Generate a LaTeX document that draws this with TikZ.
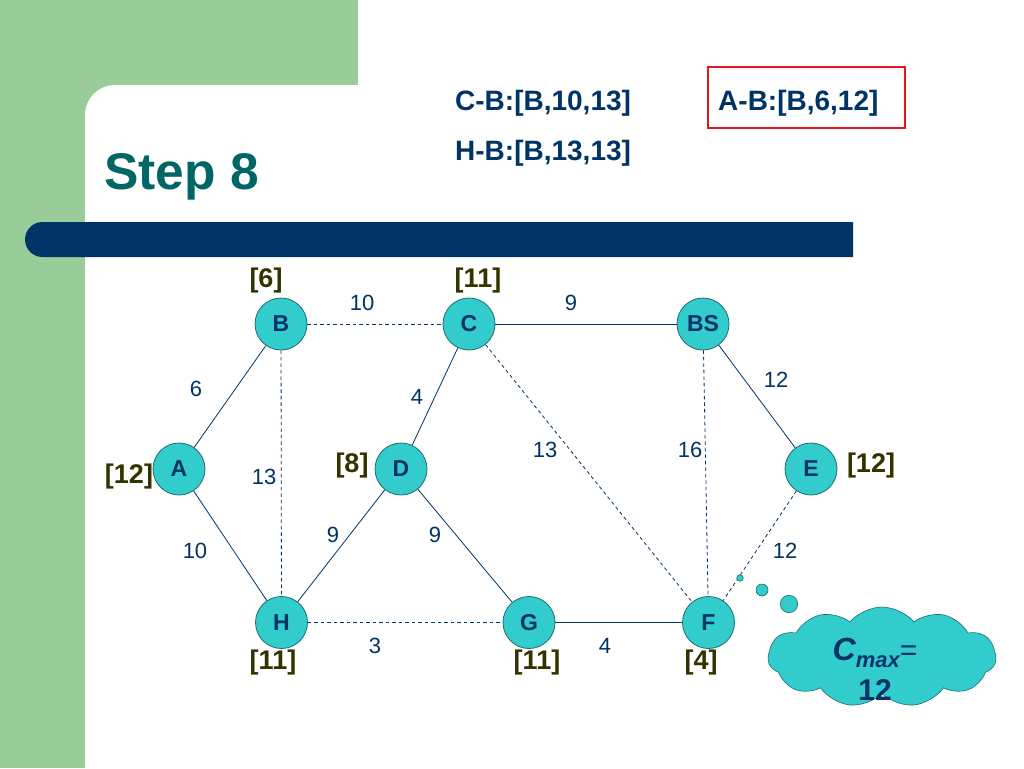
\documentclass[tikz,border=0pt]{standalone}
\usepackage{fontspec}
\setmainfont{Liberation Sans}
\usetikzlibrary{shapes.symbols}
\definecolor{bggreen}{HTML}{99CC99}
\definecolor{navy}{HTML}{003366}
\definecolor{teal8}{HTML}{006666}
\definecolor{turq}{HTML}{33CCCC}
\definecolor{rimc}{HTML}{1F6B70}
\definecolor{olive}{HTML}{333300}
\definecolor{redbox}{HTML}{E8141E}
\begin{document}
\begin{tikzpicture}[x=1pt,y=-1pt,
  vert/.style={circle,draw=rimc,fill=turq,line width=0.8pt,minimum size=52pt,inner sep=0pt,
    text=navy,font=\fontsize{23}{25}\selectfont\bfseries},
  tag/.style={text=olive,font=\fontsize{27}{29}\selectfont\bfseries,inner sep=0pt},
  wt/.style={text=navy,font=\fontsize{22}{24}\selectfont,inner sep=0pt},
  sol/.style={draw=navy,line width=0.8pt},
  dsh/.style={draw=navy,line width=0.8pt,dash pattern=on 3.5pt off 3pt},
  hdr/.style={text=navy,font=\fontsize{28}{30}\selectfont\bfseries,anchor=base west,inner sep=0pt},
  bub/.style={fill=turq,draw=rimc,line width=0.6pt}
]
\useasboundingbox (0,0) rectangle (1024,768);
\fill[white] (0,0) rectangle (1024,768);
% background
\fill[bggreen] (0,0) rectangle (358,140);
\fill[bggreen] (0,0) rectangle (85,768);
\fill[white] (85,768) [rounded corners=30] -- (85,85) [sharp corners] -- (420,85) -- (420,768) -- cycle;
\fill[navy] (853,222) [rounded corners=17.5] -- (25,222) -- (25,257) [sharp corners] -- (853,257) -- cycle;
% title
\node[anchor=base west,inner sep=0pt,text=teal8,font=\fontsize{51.5}{54}\selectfont\bfseries] (title) at (104,189) {Step 8};
% header
\node[hdr] (h1) at (455,110) {C-B:[B,10,13]};
\node[hdr] (h2) at (455,160) {H-B:[B,13,13]};
\node[hdr] (h3) at (718,110) {A-B:[B,6,12]};
\node[draw=redbox,line width=2pt,minimum width=197pt,minimum height=61pt,inner sep=0pt] (rb) at (806.5,97.5) {};
% vertices
\node[vert] (B) at (281,324) {B};
\node[vert] (C) at (469,324) {C};
\node[vert] (BS) at (703,324) {BS};
\node[vert] (A) at (179,469) {A};
\node[vert] (D) at (401,469) {D};
\node[vert] (E) at (811,469) {E};
\node[vert] (H) at (281.5,622.5) {H};
\node[vert] (G) at (529,622.5) {G};
\node[vert] (F) at (708.5,622.5) {F};
% edges
\draw[dsh] (B) -- (C);
\draw[sol] (C) -- (BS);
\draw[sol] (A) -- (B);
\draw[sol] (C) -- (D);
\draw[sol] (BS) -- (E);
\draw[dsh] (B) -- (H);
\draw[dsh] (C) -- (F);
\draw[dsh] (BS) -- (F);
\draw[sol] (A) -- (H);
\draw[sol] (D) -- (H);
\draw[sol] (D) -- (G);
\draw[dsh] (E) -- (F);
\draw[dsh] (H) -- (G);
\draw[sol] (G) -- (F);
% weights
\node[wt] (w1) at (362,303) {10};
\node[wt] (w2) at (571,303) {9};
\node[wt] (w3) at (196,389) {6};
\node[wt] (w4) at (417,397) {4};
\node[wt] (w5) at (776,380) {12};
\node[wt] (w6) at (264,477) {13};
\node[wt] (w7) at (545,450) {13};
\node[wt] (w8) at (690,450) {16};
\node[wt] (w9) at (195,551) {10};
\node[wt] (w10) at (333,535) {9};
\node[wt] (w11) at (435,535) {9};
\node[wt] (w12) at (785,551) {12};
\node[wt] (w13) at (375,646) {3};
\node[wt] (w14) at (605,646) {4};
% tags
\node[tag] (tB) at (266,281) {[6]};
\node[tag] (tC) at (478,281) {[11]};
\node[tag] (tA) at (129,477) {[12]};
\node[tag] (tD) at (352,466) {[8]};
\node[tag] (tE) at (871,466) {[12]};
\node[tag] (tH) at (273,663) {[11]};
\node[tag] (tG) at (537,663) {[11]};
\node[tag] (tF) at (701,663) {[4]};
% thought bubbles
\filldraw[bub] (740,578) circle (3.3);
\filldraw[bub] (762,590) circle (6);
\filldraw[bub] (789,604) circle (8.7);
\node[cloud,cloud puffs=11,cloud puff arc=100,cloud ignores aspect,bub,minimum width=228pt,minimum height=100pt,inner sep=0pt] (cl) at (882,657) {};
\node[anchor=base,inner sep=0pt,text=navy] (cm) at (875,660) {\fontsize{32}{34}\selectfont\bfseries\itshape C\raisebox{-7pt}{\fontsize{22}{24}\selectfont max}\fontsize{30}{32}\selectfont\normalfont =};
\node[anchor=base,inner sep=0pt,text=navy,font=\fontsize{30}{32}\selectfont\bfseries] (c12) at (875,700) {12};
\end{tikzpicture}
\end{document}
